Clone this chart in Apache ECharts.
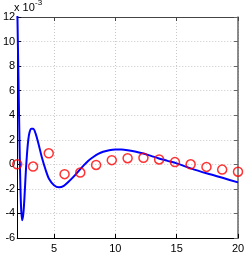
<!DOCTYPE html>
<html><head><meta charset="utf-8">
<script src="https://cdn.jsdelivr.net/npm/echarts@6/dist/echarts.min.js"></script>
<style>html,body{margin:0;padding:0;background:#fff}#c{width:249px;height:254px}</style>
</head><body><div id="c"></div>
<script>
// measured samples (values in units of 1e-3)
const sampleX = [2, 3.29, 4.57, 5.86, 7.14, 8.43, 9.71, 11, 12.29, 13.57, 14.86, 16.14, 17.43, 18.71, 20];
const sampleY = [0.0, -0.18, 0.9, -0.8, -0.67, -0.05, 0.34, 0.5, 0.53, 0.4, 0.18, 0.0, -0.21, -0.43, -0.6];
// fitted curve
const curveX = [2.0, 2.1, 2.2, 2.3, 2.4, 2.5, 2.6, 2.7, 2.8, 2.9, 3.0, 3.15, 3.3, 3.5, 3.7, 4.0, 4.3, 4.6, 5.0, 5.4, 5.8, 6.2, 6.6, 7.0, 7.4, 7.8, 8.2, 8.6, 9.0, 9.5, 10.0, 10.5, 11.0, 11.6, 12.2, 12.9, 13.5, 14.2, 15.0, 16.2, 17.5, 18.8, 20.0];
const curveY = [13, 7, 1, -3.2, -4.55, -4.0, -2.5, -0.6, 0.9, 2.0, 2.6, 2.9, 2.9, 2.5, 1.8, 0.6, -0.4, -1.2, -1.7, -1.87, -1.75, -1.4, -1.0, -0.55, -0.1, 0.3, 0.6, 0.85, 1.02, 1.15, 1.2, 1.2, 1.15, 1.04, 0.9, 0.69, 0.5, 0.3, 0.08, -0.35, -0.75, -1.12, -1.47];
const xTicks = [5, 10, 15, 20];
const yMin = -6, yMax = 12, yStep = 2;

const chart = echarts.init(document.getElementById('c'), null, {renderer: 'canvas'});
const font = 'Liberation Sans, Arial, sans-serif';
const gridLine = {show: true, lineStyle: {color: '#c8c8c8', type: [1, 2], width: 1}};
chart.setOption({
  animation: false,
  grid: {left: 13, right: 11, top: 17, bottom: 12, containLabel: false},
  xAxis: [{
    type: 'value', min: 2, max: 20, position: 'bottom',
    axisLine: {show: true, onZero: false, lineStyle: {color: '#000', width: 1}},
    axisTick: {show: true, inside: true, length: 4, customValues: xTicks, lineStyle: {color: '#000'}},
    axisLabel: {customValues: xTicks, color: '#000', fontSize: 11, fontFamily: font, margin: 5},
    splitLine: gridLine
  }, {
    type: 'value', min: 2, max: 20, position: 'top',
    axisLine: {show: true, onZero: false, lineStyle: {color: '#444', width: 1}},
    axisTick: {show: true, inside: true, length: 4, customValues: xTicks, lineStyle: {color: '#444'}},
    axisLabel: {show: false}, splitLine: {show: false}
  }],
  yAxis: [{
    type: 'value', min: yMin, max: yMax, interval: yStep, position: 'left',
    axisLine: {show: true, onZero: false, lineStyle: {color: '#000', width: 1}},
    axisTick: {show: true, inside: true, length: 4, lineStyle: {color: '#000'}},
    axisLabel: {color: '#000', fontSize: 11, fontFamily: font, margin: 2},
    splitLine: gridLine
  }, {
    type: 'value', min: yMin, max: yMax, interval: yStep, position: 'right',
    axisLine: {show: true, onZero: false, lineStyle: {color: '#666', width: 1.5}},
    axisTick: {show: true, inside: true, length: 4, lineStyle: {color: '#666'}},
    axisLabel: {show: false}, splitLine: {show: false}
  }],
  graphic: [
    {type: 'text', left: 14, top: 2, style: {text: 'x 10', fill: '#000', font: '11px ' + font}},
    {type: 'text', left: 35, top: -1, style: {text: '-3', fill: '#000', font: '8px ' + font}}
  ],
  series: [{
    type: 'line', xAxisIndex: 0, yAxisIndex: 0,
    data: curveX.map((x, i) => [x, curveY[i]]),
    showSymbol: false, smooth: 0.3, clip: true,
    lineStyle: {color: '#0000ff', width: 2}, z: 2
  }, {
    type: 'scatter', xAxisIndex: 0, yAxisIndex: 0,
    data: sampleX.map((x, i) => [x, sampleY[i]]),
    symbol: 'circle', symbolSize: 9, clip: false,
    itemStyle: {color: 'rgba(0,0,0,0)', borderColor: '#ff0000', borderWidth: 1.5}, z: 3
  }]
});
</script></body></html>
